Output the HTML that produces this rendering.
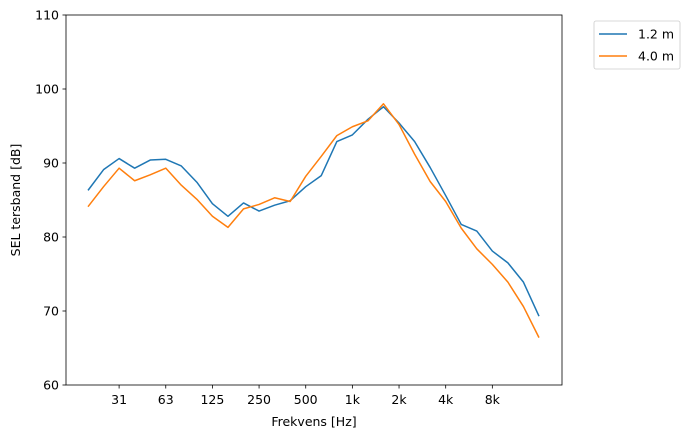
<!DOCTYPE html>
<html><head><meta charset="utf-8"><style>
body{margin:0;background:#fff;font-family:"Liberation Sans","DejaVu Sans",sans-serif}
text{font-family:"DejaVu Sans","Liberation Sans",sans-serif;font-size:12.5px;fill:#000}
</style></head><body>
<svg id="c" width="693" height="438" viewBox="0 0 693 438">
<rect x="66" y="15" width="496" height="370" fill="none" stroke="#000" stroke-width="0.8"/>
<g id="ax"></g><g id="series"></g>
<text x="314" y="426" text-anchor="middle">Frekvens [Hz]</text>
<text transform="translate(20,200) rotate(-90)" text-anchor="middle">SEL tersband [dB]</text>
<g>
<rect x="594" y="21" width="86" height="48" rx="2" fill="#fff" stroke="#ccc" stroke-width="0.8"/>
<g><line x1="599" y1="34" x2="627" y2="34" stroke="#1f77b4" stroke-width="1.5"/><text x="638" y="38.5">1.2 m</text></g>
<g><line x1="599" y1="56" x2="627" y2="56" stroke="#ff7f0e" stroke-width="1.5"/><text x="638" y="60.5">4.0 m</text></g>
</g>
</svg>
<script>
const bands=["20","25","31.5","40","50","63","80","100","125","160","200","250","315","400","500","630","800","1k","1.25k","1.6k","2k","2.5k","3.15k","4k","5k","6.3k","8k","10k","12.5k","16k"];
const s12=[86.3,89.1,90.6,89.3,90.4,90.5,89.6,87.4,84.5,82.8,84.6,83.5,84.3,84.9,86.8,88.3,92.9,93.8,95.9,97.6,95.4,92.9,89.4,85.6,81.7,80.8,78.1,76.5,73.9,69.3];
const s40=[84.1,86.8,89.3,87.6,88.4,89.3,87.0,85.1,82.8,81.3,83.8,84.4,85.3,84.8,88.2,90.9,93.7,94.9,95.7,98.0,95.2,91.2,87.5,84.8,81.2,78.4,76.3,73.9,70.6,66.4];
const xTickLabels=["31","63","125","250","500","1k","2k","4k","8k"];
const xTickIdx=[2,5,8,11,14,17,20,23,26];
const yTicks=[60,70,80,90,100,110];
const NS="http://www.w3.org/2000/svg";
const X=i=>88+i*(539-88)/(bands.length-1);
const Y=v=>385-(v-60)*7.4;
const ax=document.getElementById('ax');
function mk(t,a,p){const e=document.createElementNS(NS,t);for(const k in a)e.setAttribute(k,a[k]);p.appendChild(e);return e;}
yTicks.forEach(v=>{
 const g=mk('g',{},ax);
 
 
 mk('line',{x1:62.5,x2:66,y1:Y(v),y2:Y(v),stroke:'#000','stroke-width':0.8},g);
 const t=mk('text',{x:59,y:Y(v)+4.5,'text-anchor':'end'},g);t.textContent=v;
});
xTickIdx.forEach((idx,k)=>{
 const g=mk('g',{},ax);
 
 
 mk('line',{x1:X(idx),x2:X(idx),y1:385,y2:388.5,stroke:'#000','stroke-width':0.8},g);
 const t=mk('text',{x:X(idx),y:404,'text-anchor':'middle'},g);t.textContent=xTickLabels[k];
});
const sg=document.getElementById('series');
[[s12,'#1f77b4','line-1-2m'],[s40,'#ff7f0e','line-4-0m']].forEach(([d,c,n])=>{
 const p=mk('polyline',{points:d.map((v,i)=>X(i)+','+Y(v)).join(' '),fill:'none',stroke:c,'stroke-width':1.5,'stroke-linejoin':'round'},sg);
 
 
});
</script>
</body></html>
